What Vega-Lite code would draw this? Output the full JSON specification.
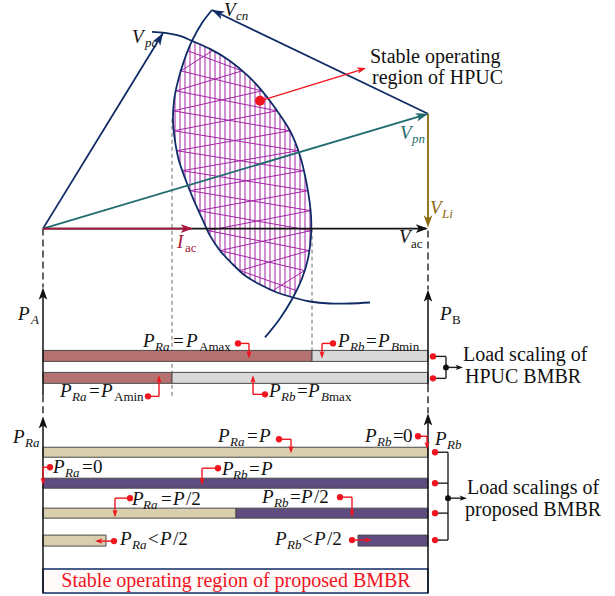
{
  "$schema": "https://vega.github.io/schema/vega-lite/v6.json",
  "width": 615,
  "height": 596,
  "padding": 0,
  "autosize": {"type": "fit", "contains": "padding"},
  "background": "white",
  "config": {"view": {"stroke": null}},
  "datasets": {
    "box": [{"x": 43, "x2": 428, "y": 569, "y2": 593}],
    "hv": [
      {"x":175,"y":95,"y2":140},{"x":180,"y":73,"y2":163},{"x":185,"y":57,"y2":177},{"x":190,"y":45,"y2":190},
      {"x":195,"y":41,"y2":202},{"x":200,"y":44,"y2":213},{"x":205,"y":46,"y2":224},{"x":210,"y":48,"y2":235},
      {"x":215,"y":51,"y2":243},{"x":220,"y":54,"y2":250},{"x":225,"y":57,"y2":255},{"x":230,"y":60,"y2":261},
      {"x":235,"y":64,"y2":266},{"x":240,"y":68,"y2":270},{"x":245,"y":73,"y2":275},{"x":250,"y":77,"y2":278},
      {"x":255,"y":83,"y2":281},{"x":260,"y":88,"y2":284},{"x":265,"y":94,"y2":286},{"x":270,"y":101,"y2":289},
      {"x":275,"y":107,"y2":291},{"x":280,"y":115,"y2":293},{"x":285,"y":122,"y2":295},{"x":290,"y":130,"y2":296},
      {"x":295,"y":143,"y2":293},{"x":300,"y":155,"y2":282},{"x":305,"y":176,"y2":268},{"x":310,"y":207,"y2":243}
    ],
    "hz": [
      {"x":188,"y":50,"x2":242,"y2":70},{"x":181,"y":70,"x2":212,"y2":50},
      {"x":181,"y":70,"x2":262,"y2":90},{"x":176,"y":90,"x2":242,"y2":70},
      {"x":176,"y":90,"x2":277,"y2":110},{"x":173.5,"y":110,"x2":262,"y2":90},
      {"x":173.5,"y":110,"x2":290,"y2":130},{"x":174,"y":130,"x2":277,"y2":110},
      {"x":174,"y":130,"x2":298,"y2":150},{"x":177,"y":150,"x2":290,"y2":130},
      {"x":177,"y":150,"x2":303.5,"y2":170},{"x":182.5,"y":170,"x2":298,"y2":150},
      {"x":182.5,"y":170,"x2":307.7,"y2":190},{"x":190,"y":190,"x2":303.5,"y2":170},
      {"x":190,"y":190,"x2":310.5,"y2":210},{"x":198.5,"y":210,"x2":307.7,"y2":190},
      {"x":198.5,"y":210,"x2":311,"y2":230},{"x":208,"y":230,"x2":310.5,"y2":210},
      {"x":208,"y":230,"x2":309,"y2":250},{"x":220,"y":250,"x2":311,"y2":230},
      {"x":220,"y":250,"x2":304.5,"y2":270},{"x":240,"y":270,"x2":309,"y2":250},
      {"x":240,"y":270,"x2":296,"y2":290},{"x":273,"y":290,"x2":304.5,"y2":270}
    ],
    "ds": [{"x":172,"y":118,"y2":396},{"x":312,"y":228,"y2":352}],
    "bars": [
      {"x":43,"x2":312,"y":350,"y2":361,"f":"ra"},{"x":312,"x2":428,"y":350,"y2":361,"f":"gr"},
      {"x":43,"x2":172,"y":372,"y2":383,"f":"ra"},{"x":172,"x2":428,"y":372,"y2":383,"f":"gr"},
      {"x":43,"x2":428,"y":447,"y2":457,"f":"tan"},
      {"x":43,"x2":428,"y":478,"y2":488,"f":"pur"},
      {"x":43,"x2":236,"y":508,"y2":518,"f":"tan"},{"x":236,"x2":428,"y":508,"y2":518,"f":"pur"},
      {"x":43,"x2":106,"y":535,"y2":546,"f":"tan"},{"x":358,"x2":428,"y":535,"y2":546,"f":"pur"}
    ],
    "dl": [{"x":43,"y":228,"y2":287},{"x":428,"y":230,"y2":289},{"x":43,"y":395,"y2":416},{"x":428,"y":385,"y2":413}],
    "axl": [{"x":43,"y":292,"y2":395},{"x":43,"y":420,"y2":593},{"x":428,"y":294,"y2":385},{"x":428,"y":417,"y2":593}],
    "arcs": [
      {"arc":"A","i":0,"x":152,"y":31},{"arc":"A","i":1,"x":165,"y":32},{"arc":"A","i":2,"x":180,"y":35},{"arc":"A","i":3,"x":192,"y":40},
      {"arc":"A","i":4,"x":210,"y":48},{"arc":"A","i":5,"x":230,"y":60},{"arc":"A","i":6,"x":248,"y":75},{"arc":"A","i":7,"x":262,"y":90},
      {"arc":"A","i":8,"x":275,"y":107},{"arc":"A","i":9,"x":290,"y":130},{"arc":"A","i":10,"x":300,"y":155},{"arc":"A","i":11,"x":307,"y":185},
      {"arc":"A","i":12,"x":311,"y":215},{"arc":"A","i":13,"x":311,"y":235},{"arc":"A","i":14,"x":308,"y":258},{"arc":"A","i":15,"x":302,"y":278},
      {"arc":"A","i":16,"x":293,"y":297},{"arc":"A","i":17,"x":280,"y":318},{"arc":"A","i":18,"x":265,"y":337},
      {"arc":"B","i":0,"x":212,"y":9},{"arc":"B","i":1,"x":202,"y":22},{"arc":"B","i":2,"x":192,"y":40},{"arc":"B","i":3,"x":184,"y":60},
      {"arc":"B","i":4,"x":178,"y":80},{"arc":"B","i":5,"x":174,"y":100},{"arc":"B","i":6,"x":173,"y":120},{"arc":"B","i":7,"x":175,"y":140},
      {"arc":"B","i":8,"x":179,"y":160},{"arc":"B","i":9,"x":186,"y":180},{"arc":"B","i":10,"x":194,"y":200},{"arc":"B","i":11,"x":203,"y":220},
      {"arc":"B","i":12,"x":210,"y":235},{"arc":"B","i":13,"x":220,"y":250},{"arc":"B","i":14,"x":232,"y":263},{"arc":"B","i":15,"x":245,"y":275},
      {"arc":"B","i":16,"x":260,"y":284},{"arc":"B","i":17,"x":277,"y":292},{"arc":"B","i":18,"x":293,"y":297},{"arc":"B","i":19,"x":310,"y":301},
      {"arc":"B","i":20,"x":330,"y":303},{"arc":"B","i":21,"x":350,"y":303},{"arc":"B","i":22,"x":370,"y":302}
    ],
    "vecs": [
      {"x":43,"y":228,"x2":163,"y2":32,"k":"navy"},
      {"x":428,"y":113,"x2":212,"y2":9,"k":"navy"},
      {"x":43,"y":228,"x2":428,"y2":113,"k":"teal"},
      {"x":428,"y":113,"x2":428,"y2":224,"k":"olive"},
      {"x":43,"y":228,"x2":426,"y2":228,"k":"black"},
      {"x":43,"y":228,"x2":191,"y2":228,"k":"dred"}
    ],
    "redl": [
      {"x":260,"y":100,"x2":364,"y2":68},
      {"x":238,"y":343,"x2":249,"y2":343},{"x":249,"y":343,"x2":249,"y2":356},
      {"x":333,"y":343,"x2":322,"y2":343},{"x":322,"y":343,"x2":322,"y2":356},
      {"x":148,"y":396,"x2":159,"y2":396},{"x":159,"y":396,"x2":159,"y2":377},
      {"x":265,"y":394,"x2":253,"y2":394},{"x":253,"y":394,"x2":253,"y2":377},
      {"x":279,"y":439,"x2":291,"y2":439},{"x":291,"y":439,"x2":291,"y2":451},
      {"x":418,"y":436,"x2":427,"y2":436},{"x":427,"y":436,"x2":427,"y2":447},
      {"x":50,"y":467,"x2":43,"y2":467},{"x":43,"y":467,"x2":43,"y2":483},
      {"x":218,"y":468,"x2":202,"y2":468},{"x":202,"y":468,"x2":202,"y2":483},
      {"x":130,"y":498,"x2":115,"y2":498},{"x":115,"y":498,"x2":115,"y2":515},
      {"x":340,"y":497,"x2":352,"y2":497},{"x":352,"y":497,"x2":352,"y2":515},
      {"x":114,"y":541,"x2":97,"y2":541},
      {"x":352,"y":540,"x2":370,"y2":540}
    ],
    "blk": [
      {"x":433,"y":356,"x2":446,"y2":356},{"x":446,"y":356,"x2":446,"y2":378},{"x":446,"y":378,"x2":433,"y2":378},{"x":446,"y":367,"x2":459,"y2":367},
      {"x":435,"y":452,"x2":448,"y2":452},{"x":435,"y":483,"x2":448,"y2":483},{"x":435,"y":513,"x2":448,"y2":513},{"x":435,"y":540,"x2":448,"y2":540},
      {"x":448,"y":452,"x2":448,"y2":540},{"x":448,"y":498,"x2":463,"y2":498}
    ],
    "bigheads": [
      {"x":163,"y":32,"a":31.5,"k":"navy"},
      {"x":212,"y":9,"a":295.7,"k":"navy"},
      {"x":428,"y":113,"a":73.4,"k":"teal"},
      {"x":428,"y":227,"a":180,"k":"olive"},
      {"x":428,"y":228,"a":90,"k":"black"},
      {"x":193,"y":228,"a":90,"k":"dred"},
      {"x":43,"y":287,"a":0,"k":"black"},
      {"x":428,"y":289,"a":0,"k":"black"},
      {"x":43,"y":416,"a":0,"k":"black"},
      {"x":428,"y":413,"a":0,"k":"black"}
    ],
    "medheads": [{"x":366,"y":67,"a":73,"k":"red"}],
    "smallheads": [
      {"x":249,"y":358,"a":180,"k":"red"},{"x":322,"y":358,"a":180,"k":"red"},
      {"x":159,"y":375,"a":0,"k":"red"},{"x":253,"y":375,"a":0,"k":"red"},
      {"x":291,"y":453,"a":180,"k":"red"},{"x":427,"y":449,"a":180,"k":"red"},
      {"x":43,"y":485,"a":180,"k":"red"},{"x":202,"y":485,"a":180,"k":"red"},
      {"x":115,"y":517,"a":180,"k":"red"},{"x":352,"y":517,"a":180,"k":"red"},
      {"x":95,"y":541,"a":270,"k":"red"},{"x":372,"y":540,"a":90,"k":"red"},
      {"x":463,"y":367,"a":90,"k":"black"},{"x":467,"y":498,"a":90,"k":"black"}
    ],
    "rdots": [
      {"x":238,"y":343},{"x":333,"y":343},{"x":148,"y":396},{"x":265,"y":394},
      {"x":279,"y":439},{"x":418,"y":436},{"x":50,"y":467},{"x":218,"y":468},
      {"x":130,"y":498},{"x":340,"y":497},{"x":114,"y":541},{"x":352,"y":540},
      {"x":433,"y":356},{"x":433,"y":378},{"x":435,"y":452},{"x":435,"y":483},{"x":435,"y":513},{"x":435,"y":540}
    ],
    "bigdot": [{"x":260,"y":100}],
    "kdots": [{"x":446,"y":367},{"x":448,"y":498}],
    "tmain": [
      {"x":132,"y":42,"t":"V","k":"black"},{"x":224,"y":15,"t":"V","k":"black"},
      {"x":400,"y":138,"t":"V","k":"teal"},{"x":430,"y":213,"t":"V","k":"olive"},
      {"x":399,"y":242,"t":"V","k":"black"},{"x":177,"y":247,"t":"I","k":"dred"},
      {"x":18,"y":320,"t":"P","k":"black"},{"x":440,"y":320,"t":"P","k":"black"},
      {"x":13,"y":443,"t":"P","k":"black"},{"x":435,"y":445,"t":"P","k":"black"},
      {"x":143,"y":347,"t":"P","k":"black"},{"x":186,"y":347,"t":"P","k":"black"},
      {"x":338,"y":347,"t":"P","k":"black"},{"x":378,"y":347,"t":"P","k":"black"},
      {"x":60,"y":397,"t":"P","k":"black"},{"x":101,"y":397,"t":"P","k":"black"},
      {"x":269,"y":397,"t":"P","k":"black"},{"x":308,"y":397,"t":"P","k":"black"},
      {"x":218,"y":442,"t":"P","k":"black"},{"x":259,"y":442,"t":"P","k":"black"},
      {"x":365,"y":442,"t":"P","k":"black"},
      {"x":53,"y":473,"t":"P","k":"black"},
      {"x":222,"y":475,"t":"P","k":"black"},{"x":261,"y":475,"t":"P","k":"black"},
      {"x":132,"y":505,"t":"P","k":"black"},{"x":173,"y":505,"t":"P","k":"black"},
      {"x":262,"y":503,"t":"P","k":"black"},{"x":301,"y":503,"t":"P","k":"black"},
      {"x":120,"y":545,"t":"P","k":"black"},{"x":160,"y":545,"t":"P","k":"black"},
      {"x":275,"y":545,"t":"P","k":"black"},{"x":314,"y":545,"t":"P","k":"black"}
    ],
    "tsubi": [
      {"x":145,"y":46,"t":"pc","k":"black"},{"x":236,"y":19,"t":"cn","k":"black"},
      {"x":412,"y":142,"t":"pn","k":"teal"},{"x":442,"y":217,"t":"Li","k":"olive"},
      {"x":31,"y":324,"t":"A","k":"black"},{"x":25,"y":447,"t":"Ra","k":"black"},{"x":447,"y":449,"t":"Rb","k":"black"},
      {"x":155,"y":351,"t":"Ra","k":"black"},{"x":350,"y":351,"t":"Rb","k":"black"},{"x":391,"y":351,"t":"B","k":"black"},
      {"x":72,"y":401,"t":"Ra","k":"black"},{"x":281,"y":401,"t":"Rb","k":"black"},{"x":321,"y":401,"t":"B","k":"black"},
      {"x":230,"y":446,"t":"Ra","k":"black"},{"x":377,"y":446,"t":"Rb","k":"black"},
      {"x":65,"y":477,"t":"Ra","k":"black"},{"x":233,"y":479,"t":"Rb","k":"black"},
      {"x":143,"y":509,"t":"Ra","k":"black"},{"x":274,"y":507,"t":"Rb","k":"black"},
      {"x":132,"y":549,"t":"Ra","k":"black"},{"x":287,"y":549,"t":"Rb","k":"black"}
    ],
    "tsubr": [
      {"x":411,"y":247,"t":"ac","k":"black"},{"x":185,"y":251,"t":"ac","k":"dred"},
      {"x":452,"y":324,"t":"B","k":"black"},
      {"x":199,"y":351,"t":"Amax","k":"black"},{"x":399,"y":351,"t":"min","k":"black"},
      {"x":114,"y":401,"t":"Amin","k":"black"},{"x":329,"y":401,"t":"max","k":"black"}
    ],
    "tupr": [
      {"x":173,"y":347,"t":"="},{"x":366,"y":347,"t":"="},{"x":89,"y":397,"t":"="},{"x":297,"y":397,"t":"="},
      {"x":247,"y":442,"t":"="},{"x":393,"y":442,"t":"="},{"x":403,"y":442,"t":"0"},
      {"x":82,"y":473,"t":"="},{"x":93,"y":473,"t":"0"},{"x":249,"y":475,"t":"="},
      {"x":161,"y":505,"t":"="},{"x":186,"y":505,"t":"/2"},
      {"x":290,"y":503,"t":"="},{"x":314,"y":503,"t":"/2"},
      {"x":148,"y":545,"t":"<"},{"x":173,"y":545,"t":"/2"},
      {"x":302,"y":545,"t":"<"},{"x":327,"y":545,"t":"/2"}
    ],
    "tplain": [
      {"x":370,"y":62,"t":"Stable operating"},{"x":372,"y":83,"t":"region of HPUC"},
      {"x":463,"y":361,"t":"Load scaling of"},{"x":465,"y":383,"t":"HPUC BMBR"},
      {"x":467,"y":494,"t":"Load scalings of"},{"x":465,"y":516,"t":"proposed BMBR"}
    ],
    "tred": [{"x":236,"y":587,"t":"Stable operating region of proposed BMBR"}]
  },
  "encoding": {
    "x": {"field": "x", "type": "quantitative", "scale": {"domain": [0, 615], "nice": false, "zero": false}, "axis": null},
    "y": {"field": "y", "type": "quantitative", "scale": {"domain": [0, 596], "nice": false, "zero": false, "reverse": true}, "axis": null}
  },
  "layer": [
    {"data": {"name": "box"}, "mark": {"type": "rect", "fill": "#fffafa", "stroke": "#0f2b66", "strokeWidth": 1.5},
     "encoding": {"x2": {"field": "x2"}, "y2": {"field": "y2"}}},
    {"data": {"name": "hv"}, "mark": {"type": "rule", "color": "#a323a6", "strokeWidth": 1},
     "encoding": {"y2": {"field": "y2"}}},
    {"data": {"name": "hz"}, "mark": {"type": "rule", "color": "#a323a6", "strokeWidth": 1},
     "encoding": {"x2": {"field": "x2"}, "y2": {"field": "y2"}}},
    {"data": {"name": "ds"}, "mark": {"type": "rule", "color": "#444444", "strokeWidth": 0.8, "strokeDash": [4, 3]},
     "encoding": {"y2": {"field": "y2"}}},
    {"data": {"name": "bars"}, "mark": {"type": "rect", "stroke": "#4a4a4a", "strokeWidth": 1},
     "encoding": {"x2": {"field": "x2"}, "y2": {"field": "y2"},
       "fill": {"field": "f", "type": "nominal", "legend": null,
         "scale": {"domain": ["ra", "gr", "tan", "pur"], "range": ["#b3726f", "#d9d9d9", "#d9cfae", "#5f4d80"]}}}},
    {"data": {"name": "dl"}, "mark": {"type": "rule", "color": "#111111", "strokeWidth": 1.3, "strokeDash": [7, 4]},
     "encoding": {"y2": {"field": "y2"}}},
    {"data": {"name": "axl"}, "mark": {"type": "rule", "color": "#111111", "strokeWidth": 1.5},
     "encoding": {"y2": {"field": "y2"}}},
    {"data": {"name": "arcs"}, "mark": {"type": "line", "interpolate": "catmull-rom", "color": "#0f2b66", "strokeWidth": 1.8},
     "encoding": {"order": {"field": "i", "type": "quantitative"}, "detail": {"field": "arc", "type": "nominal"}}},
    {"data": {"name": "vecs"}, "mark": {"type": "rule", "strokeWidth": 1.8},
     "encoding": {"x2": {"field": "x2"}, "y2": {"field": "y2"},
       "color": {"field": "k", "type": "nominal", "legend": null,
         "scale": {"domain": ["navy", "teal", "olive", "black", "dred", "red"], "range": ["#0f2b66", "#1f6b6e", "#8c6a10", "#111111", "#a5163c", "#f0141e"]}}}},
    {"data": {"name": "redl"}, "mark": {"type": "rule", "color": "#f0141e", "strokeWidth": 1.4},
     "encoding": {"x2": {"field": "x2"}, "y2": {"field": "y2"}}},
    {"data": {"name": "blk"}, "mark": {"type": "rule", "color": "#222222", "strokeWidth": 1.4},
     "encoding": {"x2": {"field": "x2"}, "y2": {"field": "y2"}}},
    {"data": {"name": "bigheads"}, "mark": {"type": "point", "filled": true, "opacity": 1, "size": 150, "shape": "M0,0L-0.7,2L0,1.5L0.7,2Z"},
     "encoding": {"angle": {"field": "a", "type": "quantitative", "scale": null},
       "color": {"field": "k", "type": "nominal", "legend": null,
         "scale": {"domain": ["navy", "teal", "olive", "black", "dred", "red"], "range": ["#0f2b66", "#1f6b6e", "#8c6a10", "#111111", "#a5163c", "#f0141e"]}}}},
    {"data": {"name": "medheads"}, "mark": {"type": "point", "filled": true, "opacity": 1, "size": 80, "shape": "M0,0L-0.7,2L0,1.5L0.7,2Z"},
     "encoding": {"angle": {"field": "a", "type": "quantitative", "scale": null},
       "color": {"field": "k", "type": "nominal", "legend": null,
         "scale": {"domain": ["navy", "teal", "olive", "black", "dred", "red"], "range": ["#0f2b66", "#1f6b6e", "#8c6a10", "#111111", "#a5163c", "#f0141e"]}}}},
    {"data": {"name": "smallheads"}, "mark": {"type": "point", "filled": true, "opacity": 1, "size": 55, "shape": "M0,0L-0.7,2L0,1.5L0.7,2Z"},
     "encoding": {"angle": {"field": "a", "type": "quantitative", "scale": null},
       "color": {"field": "k", "type": "nominal", "legend": null,
         "scale": {"domain": ["navy", "teal", "olive", "black", "dred", "red"], "range": ["#0f2b66", "#1f6b6e", "#8c6a10", "#111111", "#a5163c", "#f0141e"]}}}},
    {"data": {"name": "rdots"}, "mark": {"type": "circle", "color": "#f0141e", "opacity": 1, "size": 40}},
    {"data": {"name": "bigdot"}, "mark": {"type": "circle", "color": "#f0141e", "opacity": 1, "size": 100}},
    {"data": {"name": "kdots"}, "mark": {"type": "circle", "color": "#111111", "opacity": 1, "size": 35}},
    {"data": {"name": "tmain"}, "mark": {"type": "text", "font": "Liberation Serif", "fontStyle": "italic", "fontSize": 19, "align": "left", "baseline": "alphabetic"},
     "encoding": {"text": {"field": "t"},
       "color": {"field": "k", "type": "nominal", "legend": null,
         "scale": {"domain": ["navy", "teal", "olive", "black", "dred", "red"], "range": ["#0f2b66", "#1f6b6e", "#8c6a10", "#111111", "#a5163c", "#f0141e"]}}}},
    {"data": {"name": "tsubi"}, "mark": {"type": "text", "font": "Liberation Serif", "fontStyle": "italic", "fontSize": 13, "align": "left", "baseline": "alphabetic"},
     "encoding": {"text": {"field": "t"},
       "color": {"field": "k", "type": "nominal", "legend": null,
         "scale": {"domain": ["navy", "teal", "olive", "black", "dred", "red"], "range": ["#0f2b66", "#1f6b6e", "#8c6a10", "#111111", "#a5163c", "#f0141e"]}}}},
    {"data": {"name": "tsubr"}, "mark": {"type": "text", "font": "Liberation Serif", "fontSize": 13, "align": "left", "baseline": "alphabetic"},
     "encoding": {"text": {"field": "t"},
       "color": {"field": "k", "type": "nominal", "legend": null,
         "scale": {"domain": ["navy", "teal", "olive", "black", "dred", "red"], "range": ["#0f2b66", "#1f6b6e", "#8c6a10", "#111111", "#a5163c", "#f0141e"]}}}},
    {"data": {"name": "tupr"}, "mark": {"type": "text", "font": "Liberation Serif", "fontSize": 19, "align": "left", "baseline": "alphabetic", "color": "#111111"},
     "encoding": {"text": {"field": "t"}}},
    {"data": {"name": "tplain"}, "mark": {"type": "text", "font": "Liberation Serif", "fontSize": 20, "align": "left", "baseline": "alphabetic", "color": "#111111"},
     "encoding": {"text": {"field": "t"}}},
    {"data": {"name": "tred"}, "mark": {"type": "text", "font": "Liberation Serif", "fontSize": 20, "align": "center", "baseline": "alphabetic", "color": "#f0141e"},
     "encoding": {"text": {"field": "t"}}}
  ]
}
